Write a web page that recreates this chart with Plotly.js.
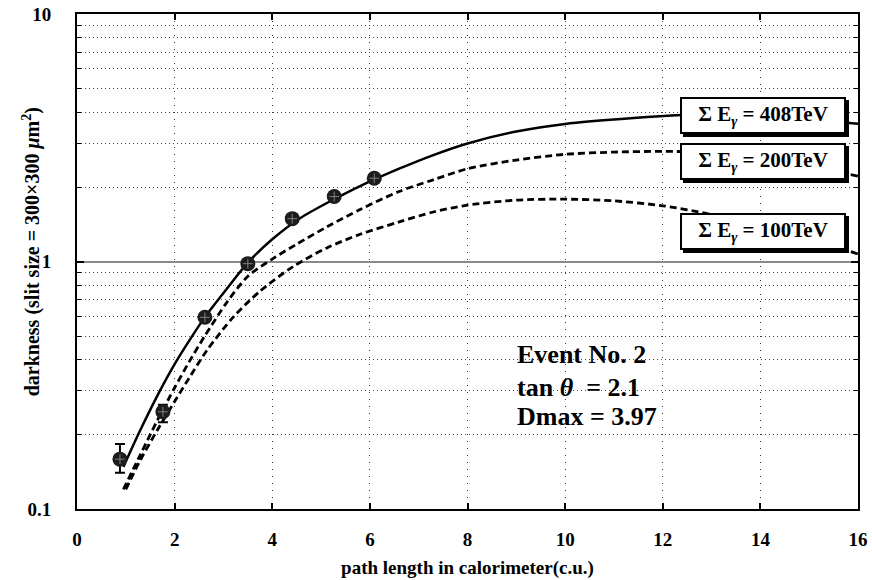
<!DOCTYPE html>
<html>
<head>
<meta charset="utf-8">
<script src="https://cdn.plot.ly/plotly-3.0.1.min.js"></script>
<style>html,body{margin:0;padding:0;background:#fff}#chart{width:872px;height:580px}</style>
</head>
<body>
<div id="chart"></div>
<script>
// Measured data points (path length, darkness)
const pointX = [0.88, 1.76, 2.62, 3.5, 4.41, 5.27, 6.09];
const pointY = [0.159, 0.247, 0.595, 0.98, 1.49, 1.83, 2.17];
const errPlus = [0.024, 0.017, 0, 0, 0, 0, 0];
const errMinus = [0.019, 0.023, 0, 0, 0, 0, 0];

// Transition curves
const curve408X = [0.95, 1.3, 1.65, 2.0, 2.3, 2.62, 3.07, 3.5, 4.0, 4.57, 5.25, 5.8, 6.6, 7.3, 8.0, 9.0, 10.0, 11.4, 12.4, 13.0, 14.0, 15.0, 16.0];
const curve408Y = [0.148, 0.209, 0.288, 0.385, 0.479, 0.596, 0.776, 0.989, 1.23, 1.496, 1.778, 2.018, 2.371, 2.692, 2.999, 3.35, 3.597, 3.80, 3.91, 3.94, 3.87, 3.76, 3.60];
const curve200X = [0.95, 1.3, 1.65, 2.0, 2.3, 2.62, 3.07, 3.5, 4.0, 4.5, 5.12, 5.8, 6.6, 7.3, 8.0, 9.0, 10.0, 11.0, 12.0, 13.0, 14.0, 15.0, 16.0];
const curve200Y = [0.120, 0.166, 0.229, 0.309, 0.394, 0.501, 0.684, 0.871, 1.023, 1.175, 1.380, 1.622, 1.919, 2.138, 2.371, 2.570, 2.710, 2.767, 2.786, 2.754, 2.630, 2.427, 2.213];
const curve100X = [1.0, 1.3, 1.65, 2.0, 2.3, 2.66, 3.2, 3.75, 4.43, 5.12, 5.8, 6.6, 7.3, 8.0, 9.0, 10.0, 11.0, 12.0, 13.0, 14.0, 15.0, 16.0];
const curve100Y = [0.120, 0.158, 0.209, 0.272, 0.339, 0.437, 0.596, 0.759, 0.955, 1.135, 1.288, 1.445, 1.585, 1.690, 1.770, 1.786, 1.758, 1.679, 1.549, 1.396, 1.245, 1.072];

const curveLabels = ['408TeV', '200TeV', '100TeV'];
const labelY = [3.88, 2.53, 1.32];
const labelX = 14.06;

const xTicks = [0, 2, 4, 6, 8, 10, 12, 14, 16];
const yTickVals = [0.1, 1, 10];
const yTickText = ['0.1', '1', '10'];
const yMinor = [0.2, 0.3, 0.4, 0.5, 0.6, 0.7, 0.8, 0.9, 2, 3, 4, 5, 6, 7, 8, 9];

const eventLines = ['Event No. 2', 'tan <i>θ</i>  = 2.1', 'Dmax = 3.97'];
const eventY = [0.42, 0.31, 0.236];

const xTitle = 'path length in calorimeter(c.u.)';
const yTitle = 'darkness (slit size = 300×300 <i>μ</i>m<sup>2</sup>)';

const serif = '"Liberation Serif", "Times New Roman", Times, serif';

const traces = [
  {x: curve408X, y: curve408Y, mode: 'lines', line: {color: '#000', width: 2.5, shape: 'spline', smoothing: 0.8}, hoverinfo: 'skip'},
  {x: curve200X, y: curve200Y, mode: 'lines', line: {color: '#000', width: 2.8, dash: '7px,4px', shape: 'spline', smoothing: 0.8}, hoverinfo: 'skip'},
  {x: curve100X, y: curve100Y, mode: 'lines', line: {color: '#000', width: 2.8, dash: '7px,4px', shape: 'spline', smoothing: 0.8}, hoverinfo: 'skip'},
  {x: pointX, y: pointY, mode: 'markers',
   marker: {symbol: 'circle', size: 15, color: '#1c1c1c'},
   error_y: {type: 'data', symmetric: false, array: errPlus, arrayminus: errMinus, thickness: 2, width: 5, color: '#000'}},
  {x: pointX, y: pointY, mode: 'markers', hoverinfo: 'skip',
   marker: {symbol: 'cross-thin-open', size: 7, color: 'rgba(150,150,150,0.8)', line: {width: 1, color: 'rgba(150,150,150,0.8)'}}}
];

const annotations = [];
curveLabels.forEach((lab, i) => {
  const common = {x: labelX, y: Math.log10(labelY[i]), xref: 'x', yref: 'y', showarrow: false,
    width: 158, height: 29, borderpad: 2, borderwidth: 2, align: 'center',
    font: {family: serif, size: 21, weight: 'bold', color: '#000'}};
  // drop shadow box (no text)
  annotations.push(Object.assign({}, common, {text: ' ', bgcolor: '#000', bordercolor: '#000', xshift: 3, yshift: -3}));
  annotations.push(Object.assign({}, common, {text: 'Σ E<sub><i>γ</i></sub> = ' + lab, bgcolor: '#fff', bordercolor: '#000'}));
});
eventLines.forEach((t, i) => {
  annotations.push({x: 8.98, y: Math.log10(eventY[i]), xref: 'x', yref: 'y', xanchor: 'left', yanchor: 'middle',
    showarrow: false, text: t, font: {family: serif, size: 26, weight: 'bold', color: '#000'}});
});
// y axis title, placed close to the tick labels as in the original
annotations.push({x: -0.058, y: 0.52, xref: 'paper', yref: 'paper', xanchor: 'center', yanchor: 'middle',
  textangle: -90, showarrow: false, text: yTitle, font: {family: serif, size: 20, weight: 'bold', color: '#000'}});

const layout = {
  width: 872, height: 580,
  margin: {l: 77, r: 14, t: 14, b: 71},
  paper_bgcolor: '#fff', plot_bgcolor: '#fff',
  showlegend: false,
  font: {family: serif, color: '#000', weight: 'bold'},
  xaxis: {
    range: [0, 16], tickvals: xTicks, ticks: 'inside', ticklen: 6, tickwidth: 2, tickcolor: '#000',
    showline: true, linewidth: 2, linecolor: '#000', mirror: 'allticks',
    showgrid: true, gridcolor: '#333', gridwidth: 1, griddash: '1px,6px', zeroline: false,
    ticklabelstandoff: 12,
    tickfont: {family: serif, size: 19, weight: 'bold'},
    title: {text: xTitle, font: {family: serif, size: 19, weight: 'bold'}, standoff: 12}
  },
  yaxis: {
    type: 'log', range: [-1, 1], tickvals: yTickVals, ticktext: yTickText,
    ticks: 'inside', ticklen: 7, tickwidth: 2, tickcolor: '#000',
    showline: true, linewidth: 2, linecolor: '#000', mirror: 'allticks',
    showgrid: true, gridcolor: '#8a8a8a', gridwidth: 2, zeroline: false,
    ticklabelstandoff: 20,
    tickfont: {family: serif, size: 19, weight: 'bold'},
    minor: {tickvals: yMinor, ticks: 'inside', ticklen: 4, tickwidth: 1, tickcolor: '#000',
      showgrid: true, gridcolor: '#444', gridwidth: 1, griddash: '1px,3px'}
  },
  annotations: annotations
};

Plotly.newPlot('chart', traces, layout, {displayModeBar: false, staticPlot: true});
</script>
</body>
</html>
